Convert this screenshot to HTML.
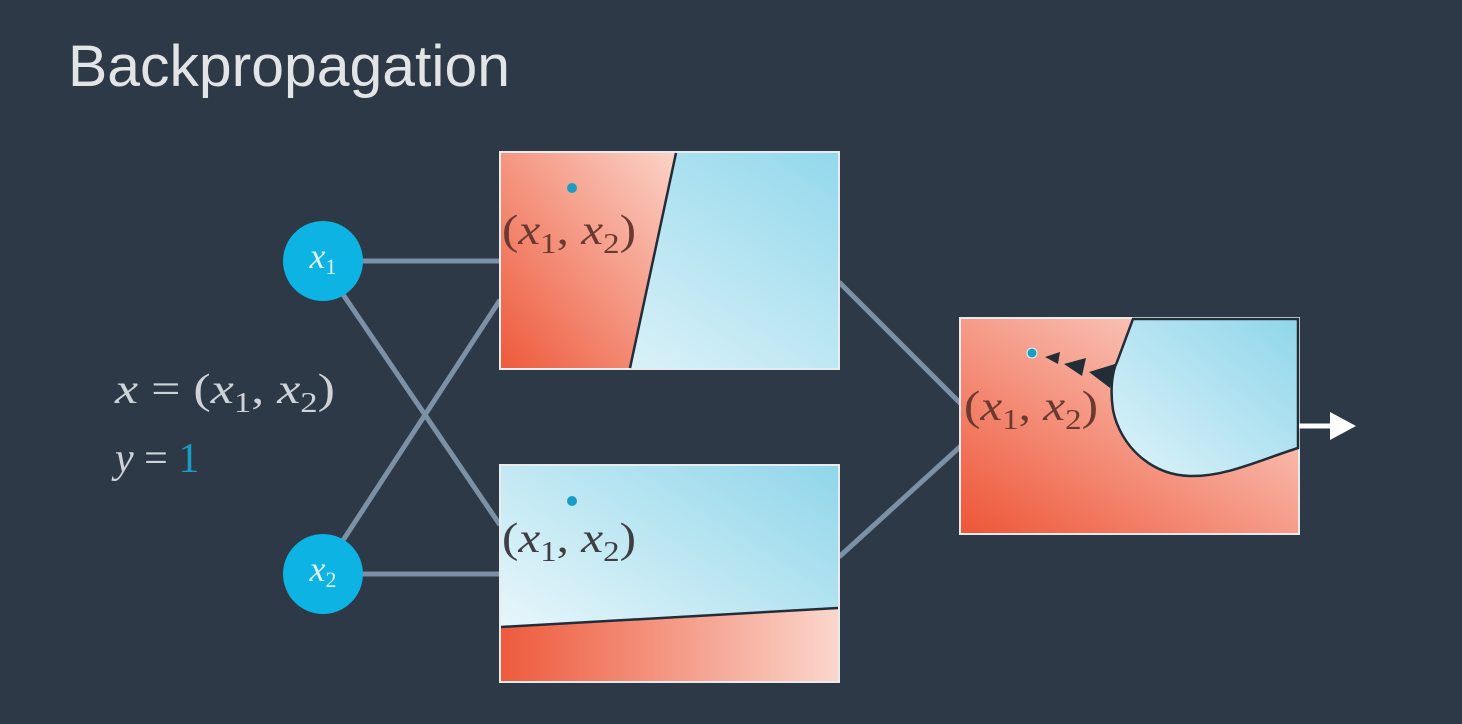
<!DOCTYPE html>
<html><head><meta charset="utf-8"><style>
html,body{margin:0;padding:0;background:#2d3947;}
svg{display:block}
</style></head><body>
<svg width="1462" height="724" viewBox="0 0 1462 724" xmlns="http://www.w3.org/2000/svg">
<defs>
<linearGradient id="red1" x1="0" y1="1" x2="1" y2="0"><stop offset="0" stop-color="#ee5a3c"/><stop offset="1" stop-color="#fbd3c8"/></linearGradient>
<linearGradient id="blue1" x1="0" y1="1" x2="1" y2="0"><stop offset="0" stop-color="#eaf7fb"/><stop offset="1" stop-color="#93d8ec"/></linearGradient>
<linearGradient id="blue2" x1="0" y1="1" x2="1" y2="0"><stop offset="0" stop-color="#f4fbfd"/><stop offset="1" stop-color="#90d6ea"/></linearGradient>
<linearGradient id="red2" x1="0" y1="0" x2="1" y2="0"><stop offset="0" stop-color="#ee5a3c"/><stop offset="1" stop-color="#fbd6cc"/></linearGradient>
<linearGradient id="red3" x1="0" y1="1" x2="1" y2="0"><stop offset="0" stop-color="#ee5536"/><stop offset="1" stop-color="#fde3dc"/></linearGradient>
<linearGradient id="blue3" x1="0" y1="1" x2="1" y2="0"><stop offset="0" stop-color="#def3f9"/><stop offset="1" stop-color="#90d6eb"/></linearGradient>
</defs>
<rect width="1462" height="724" fill="#2d3947"/>
<text x="68" y="86" font-family="'Liberation Sans',sans-serif" font-size="58" fill="#e2e4e6" textLength="442" lengthAdjust="spacingAndGlyphs">Backpropagation</text>
<g stroke="#7c90a6" stroke-width="5" fill="none">
<line x1="323" y1="261" x2="500" y2="261"/>
<line x1="323" y1="574" x2="500" y2="574"/>
<line x1="340" y1="290" x2="500" y2="525"/>
<line x1="340" y1="545" x2="500" y2="300"/>
<line x1="839" y1="282" x2="962" y2="405"/>
<line x1="839" y1="557" x2="962" y2="445"/>
</g>
<circle cx="323" cy="261" r="40" fill="#0db3e2"/>
<circle cx="323" cy="574" r="40" fill="#0db3e2"/>
<text x="323" y="268" text-anchor="middle" font-family="'Liberation Serif',serif" font-style="italic" font-size="36" fill="#dff3fa">x<tspan font-size="22" font-style="normal" dy="6">1</tspan></text>
<text x="323" y="581" text-anchor="middle" font-family="'Liberation Serif',serif" font-style="italic" font-size="36" fill="#dff3fa">x<tspan font-size="22" font-style="normal" dy="6">2</tspan></text>
<text x="115" y="403" font-family="'Liberation Serif',serif" font-size="42" fill="#cfd3d8" textLength="220" lengthAdjust="spacingAndGlyphs"><tspan font-style="italic">x</tspan> = (<tspan font-style="italic">x</tspan><tspan font-size="28" dy="9">1</tspan><tspan dy="-9">, </tspan><tspan font-style="italic">x</tspan><tspan font-size="28" dy="9">2</tspan><tspan dy="-9">)</tspan></text>
<text x="115" y="472" font-family="'Liberation Serif',serif" font-size="42" fill="#cfd3d8"><tspan font-style="italic">y</tspan> = <tspan fill="#1a9cc4">1</tspan></text>
<!-- top box -->
<rect x="500" y="152" width="339" height="217" fill="url(#blue1)" stroke="#e8eaec" stroke-width="2"/>
<polygon points="501,153 676,153 630,368 501,368" fill="url(#red1)"/>
<line x1="676" y1="153" x2="630" y2="368" stroke="#222d38" stroke-width="2.5"/>
<circle cx="572" cy="188" r="5" fill="#1a9cc4"/>
<text x="502" y="244" font-family="'Liberation Serif',serif" font-size="42" fill="#6a3a30" textLength="134" lengthAdjust="spacingAndGlyphs">(<tspan font-style="italic">x</tspan><tspan font-size="28" dy="9">1</tspan><tspan dy="-9">, </tspan><tspan font-style="italic">x</tspan><tspan font-size="28" dy="9">2</tspan><tspan dy="-9">)</tspan></text>
<!-- bottom box -->
<rect x="500" y="465" width="339" height="217" fill="url(#blue2)" stroke="#e8eaec" stroke-width="2"/>
<polygon points="501,627 838,608 838,681 501,681" fill="url(#red2)"/>
<line x1="501" y1="627" x2="838" y2="608" stroke="#222d38" stroke-width="2.5"/>
<circle cx="572" cy="501" r="5" fill="#1a9cc4"/>
<text x="502" y="552" font-family="'Liberation Serif',serif" font-size="42" fill="#3e3e44" textLength="134" lengthAdjust="spacingAndGlyphs">(<tspan font-style="italic">x</tspan><tspan font-size="28" dy="9">1</tspan><tspan dy="-9">, </tspan><tspan font-style="italic">x</tspan><tspan font-size="28" dy="9">2</tspan><tspan dy="-9">)</tspan></text>
<!-- right box -->
<rect x="960" y="318" width="339" height="216" fill="url(#red3)" stroke="#e8eaec" stroke-width="2"/>
<path d="M1133,319 L1298,319 L1298,448 C1260,460 1225,477 1190,476 C1150,475 1120,445 1113,410 C1110,390 1112,372 1117,362 Z" fill="url(#blue3)" stroke="#222d38" stroke-width="2.5"/>
<polygon points="1089,372 1115,364 1110,388" fill="#222d38"/>
<polygon points="1064,364 1086,358 1082,376" fill="#222d38"/>
<polygon points="1045,357 1060,352 1058,364" fill="#222d38"/>
<circle cx="1032" cy="353" r="5" fill="#1a9cc4" stroke="#e0f4fa" stroke-width="1"/>
<text x="964" y="420" font-family="'Liberation Serif',serif" font-size="42" fill="#6a3a30" textLength="134" lengthAdjust="spacingAndGlyphs">(<tspan font-style="italic">x</tspan><tspan font-size="28" dy="9">1</tspan><tspan dy="-9">, </tspan><tspan font-style="italic">x</tspan><tspan font-size="28" dy="9">2</tspan><tspan dy="-9">)</tspan></text>
<line x1="1299" y1="426" x2="1335" y2="426" stroke="#ffffff" stroke-width="5"/>
<polygon points="1330,412 1356,426 1330,440" fill="#ffffff"/>
</svg>
</body></html>
